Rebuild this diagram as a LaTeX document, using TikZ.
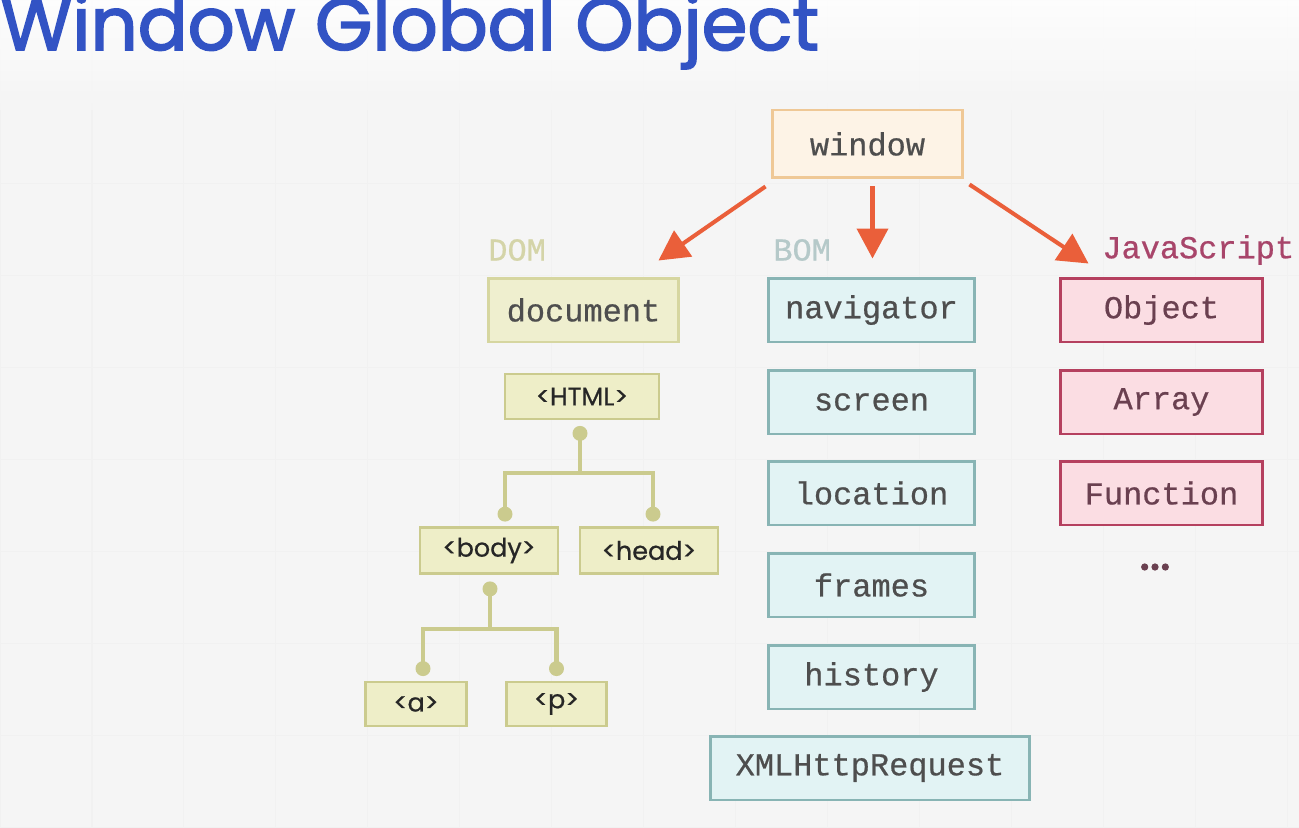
\documentclass[tikz,border=0pt]{standalone}
\usepackage{fontspec}
\usepackage{tikz}
\usetikzlibrary{arrows.meta,positioning,calc}

\newfontfamily\codefont{Liberation Mono}[FakeBold=0.6]
\newfontfamily\tagfont{Poppins}[FakeBold=0.7]
\newfontfamily\titlefont{Poppins}[FakeBold=2.2]

\definecolor{titleblue}{HTML}{3253C4}
\definecolor{arrowred}{HTML}{EA5F3A}
\definecolor{inktext}{HTML}{4E4E4E}
\definecolor{winfill}{HTML}{FDF3E6}
\definecolor{winline}{HTML}{EFC896}
\definecolor{domfill}{HTML}{EFEFCF}
\definecolor{domline}{HTML}{D6D6A0}
\definecolor{domlabel}{HTML}{D4D4A8}
\definecolor{tagfill}{HTML}{EEEEC8}
\definecolor{tagline}{HTML}{CBCB8E}
\definecolor{bomfill}{HTML}{E2F3F4}
\definecolor{bomline}{HTML}{88B4B4}
\definecolor{bomlabel}{HTML}{B5C9C9}
\definecolor{jsfill}{HTML}{FBDDE3}
\definecolor{jsline}{HTML}{B5405F}
\definecolor{jslabel}{HTML}{A8456A}
\definecolor{jstext}{HTML}{6A4050}

\begin{document}
\begin{tikzpicture}[
  x=0.02cm,y=-0.02cm,
  codebox/.style={rectangle, line width=1.7pt, minimum height=1.28cm, inner sep=0pt, font=\codefont\fontsize{18.2}{20}\selectfont, text=inktext},
  winbox/.style={codebox, draw=winline, fill=winfill, minimum width=3.82cm, minimum height=1.36cm},
  dombox/.style={codebox, draw=domline, fill=domfill, minimum width=3.82cm},
  bombox/.style={codebox, draw=bomline, fill=bomfill, minimum width=4.14cm},
  jsbox/.style={codebox, draw=jsline, fill=jsfill, minimum width=4.06cm, text=jstext},
  tagbox/.style={rectangle, draw=tagline, fill=tagfill, line width=1.6pt, minimum height=0.92cm, inner sep=0pt, font=\tagfont\fontsize{14.5}{16}\selectfont, text=black!85},
  grouplabel/.style={anchor=west, inner sep=0pt, font=\codefont\fontsize{18.2}{20}\selectfont},
  pointer/.style={-{Triangle[length=0.6cm,width=0.62cm]}, draw=arrowred, line width=2.3pt},
  treeline/.style={draw=tagline, line width=2.3pt},
  gridline/.style={draw=black!5.5, line width=0.6pt}
]
  \clip (0,0) rectangle (1299,828);
  \fill[black!4] (0,0) rectangle (1299,828);
  \draw[gridline, step=1.84cm] (0,0) grid (1299,828);
  \shade[top color=white, bottom color=black!4, fill opacity=0.8] (0,0) rectangle (1299,110);

  \node[anchor=base west, inner sep=0pt, text=titleblue, font=\titlefont\fontsize{42}{46}\selectfont] (title) at (0,50) {Window Global Object};

  \node[winbox] (win) at (867.5,144) {window};

  \node[grouplabel, text=domlabel] (domlab) at (488,250) {DOM};
  \node[grouplabel, text=bomlabel] (bomlab) at (773,250) {BOM};
  \node[grouplabel, text=jslabel] (jslab) at (1102,250) {JavaScript};

  \node[dombox] (doc) at (583.5,310) {document};

  \node[bombox] (nav) at (871.5,310) {navigator};
  \node[bombox] (scr) at (871.5,402) {screen};
  \node[bombox] (loc) at (871.5,493) {location};
  \node[bombox] (frm) at (871.5,585) {frames};
  \node[bombox] (hist) at (871.5,677) {history};
  \node[bombox, minimum width=6.4cm] (xhr) at (870,768) {XMLHttpRequest};

  \node[jsbox] (obj) at (1161.5,310) {Object};
  \node[jsbox] (arr) at (1161.5,402) {Array};
  \node[jsbox] (fun) at (1161.5,493) {Function};
  \node[inner sep=0pt, text=jstext, font=\titlefont\fontsize{28}{30}\selectfont] (more) at (1155,567) {...};

  \draw[pointer] ([shift={(-5,7)}]win.south west) -- ([shift={(-22,-16)}]doc.north east);
  \draw[pointer] ([shift={(5,7)}]win.south) -- ([shift={(1,-18)}]nav.north);
  \draw[pointer] ([shift={(5,5)}]win.south east) -- ([shift={(30,-13)}]obj.north west);

  % html tree
  \node[tagbox, minimum width=3.08cm, minimum height=0.9cm] (html) at (582,396.5) {<HTML>};
  \node[tagbox, minimum width=2.76cm] (body) at (489,550.5) {<body>};
  \node[tagbox, minimum width=2.76cm] (head) at (649,550.5) {<head>};
  \node[tagbox, minimum width=2.02cm, minimum height=0.88cm] (tagA) at (416,704) {<a>};
  \node[tagbox, minimum width=2.0cm, minimum height=0.88cm] (tagP) at (556.5,704) {<p>};

  \coordinate (htmlDot) at ([shift={(-2,13)}]html.south);
  \coordinate (bodyTop) at ([shift={(16,-12)}]body.north);
  \coordinate (headTop) at ([shift={(4,-12)}]head.north);
  \coordinate (bodyDot) at ([shift={(1,14)}]body.south);
  \coordinate (aTop) at ([shift={(7,-12)}]tagA.north);
  \coordinate (pTop) at ([shift={(0,-12)}]tagP.north);

  \draw[treeline] (htmlDot) -- ++(0,40) -| (bodyTop);
  \draw[treeline] (htmlDot) -- ++(0,40) -| (headTop);
  \draw[treeline] (bodyDot) -- ++(0,40) -| (aTop);
  \draw[treeline] (bodyDot) -- ++(0,40) -| (pTop);
  \foreach \d in {htmlDot,bodyTop,headTop,bodyDot,aTop,pTop}
    \fill[tagline] (\d) circle (0.15cm);
\end{tikzpicture}
\end{document}
